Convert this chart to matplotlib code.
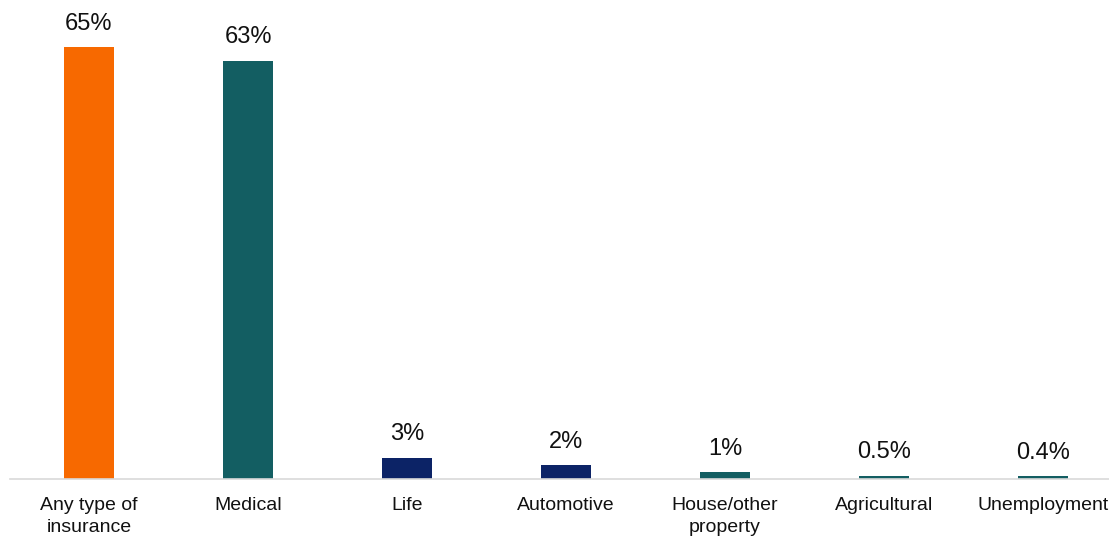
import matplotlib
matplotlib.use("Agg")
import matplotlib.pyplot as plt

categories = ["Any type of\ninsurance", "Medical", "Life", "Automotive",
              "House/other\nproperty", "Agricultural", "Unemployment"]
values = [65, 63, 3.2, 2.1, 1.0, 0.5, 0.4]
value_labels = ["65%", "63%", "3%", "2%", "1%", "0.5%", "0.4%"]
colors = ["#F76900", "#135E62", "#0C2366", "#0C2366", "#135E62", "#135E62", "#135E62"]

plt.rcParams["font.family"] = ["Liberation Sans", "DejaVu Sans"]

W, H = 1109, 536
fig = plt.figure(figsize=(W / 100, H / 100), dpi=100)
step = 159.0
left_px = 89 - step / 2
bottom_px = 57
ax = fig.add_axes([left_px / W, bottom_px / H, 7 * step / W, 465 / H])

x = range(len(categories))
ax.bar(x, values, width=0.315, color=colors)
for i, (v, lab) in enumerate(zip(values, value_labels)):
    ax.annotate(lab, (i, v), xytext=(0, 9), textcoords="offset points",
                ha="center", va="bottom", fontsize=17, color="#111111")

ax.set_xlim(-0.5, 6.5)
ax.set_ylim(0, 70)
ax.set_xticks(list(x))
ax.set_xticklabels(categories, fontsize=14, color="#111111", linespacing=1.35)
ax.tick_params(axis="x", length=0, pad=13)
ax.set_yticks([])
for s in ["top", "right", "left"]:
    ax.spines[s].set_visible(False)
ax.spines["bottom"].set_color("#D9D9D9")
ax.spines["bottom"].set_linewidth(1.2)

fig.savefig("out.png", dpi=100)
